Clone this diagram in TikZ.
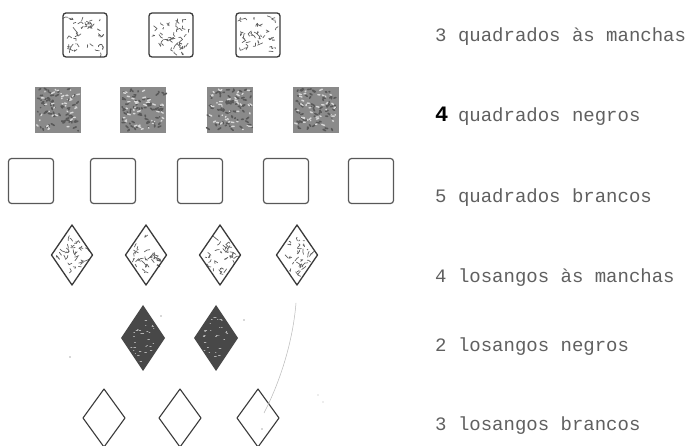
\documentclass[tikz,border=0pt]{standalone}
\usepackage{fontspec}
\setmonofont{Liberation Mono}
\definecolor{ink}{HTML}{3A3A3A}
\definecolor{txt}{HTML}{606060}
\definecolor{darkfill}{HTML}{8A8A8A}
\definecolor{blackfill}{HTML}{484848}
\tikzset{
  edge/.style={draw=ink, line width=1.3pt, rounded corners=3pt},
  spot/.style={draw=ink!80, line width=0.7pt, line cap=round, line join=round},
  lbl/.style={anchor=base west, inner sep=0pt, text=txt, font=\ttfamily\fontsize{19}{19}\selectfont},
  spotsq/.pic={
    \foreach \i in {1,...,40}{
      \pgfmathsetmacro\px{rand*18}\pgfmathsetmacro\py{rand*18}
      \pgfmathsetmacro\dx{rand*3.5}\pgfmathsetmacro\dy{rand*3.5}
      \pgfmathsetmacro\ex{rand*3}\pgfmathsetmacro\ey{rand*3}
      \draw[spot] (\px,\py) -- ++(\dx,\dy) -- ++(\ex,\ey);
    }
    \draw[edge] (-22,-22) rectangle (22,22);
  },
  darksq/.pic={
    \fill[darkfill] (-23,-23) rectangle (23,23);
    \foreach \i in {1,...,70}{
      \pgfmathsetmacro\px{rand*21}\pgfmathsetmacro\py{rand*21}
      \pgfmathsetmacro\dx{rand*3}\pgfmathsetmacro\dy{rand*2}
      \draw[line width=1.6pt, black!65, line cap=round] (\px,\py) -- ++(\dx,\dy);
    }
    \foreach \i in {1,...,40}{
      \pgfmathsetmacro\px{rand*20}\pgfmathsetmacro\py{rand*20}
      \pgfmathsetmacro\dx{rand*3}\pgfmathsetmacro\dy{rand*1.5}
      \draw[line width=1.4pt, gray!30, line cap=round] (\px,\py) -- ++(\dx,\dy);
    }
  },
  whitesq/.pic={
    \draw[edge, draw=ink!85, line width=1.2pt] (-22.5,-22.5) rectangle (22.5,22.5);
  },
  spotdia/.pic={
    \foreach \i in {1,...,30}{
      \pgfmathsetmacro\px{rand*14}
      \pgfmathsetmacro\py{rand*(1-abs(\px)/20)*23}
      \pgfmathsetmacro\dx{rand*3.5}\pgfmathsetmacro\dy{rand*3.5}
      \pgfmathsetmacro\ex{rand*3}\pgfmathsetmacro\ey{rand*3}
      \draw[spot] (\px,\py) -- ++(\dx,\dy) -- ++(\ex,\ey);
    }
    \draw[draw=ink, line width=1.3pt, line join=round] (0,-30) -- (20.5,0) -- (0,30) -- (-20.5,0) -- cycle;
  },
  darkdia/.pic={
    \fill[blackfill] (0,-33) -- (22,0) -- (0,33) -- (-22,0) -- cycle;
    \foreach \i in {1,...,30}{
      \pgfmathsetmacro\px{rand*12}
      \pgfmathsetmacro\py{rand*(1-abs(\px)/22)*25}
      \draw[line width=1pt, gray!60, line cap=round] (\px,\py) -- ++(rand*2,0);
    }
  },
  whitedia/.pic={
    \draw[draw=ink, line width=1.1pt, line join=round] (0,-29) -- (21,0) -- (0,29) -- (-21,0) -- cycle;
  }
}
\begin{document}
\begin{tikzpicture}[x=1pt,y=-1pt]
\pgfmathsetseed{4711}
\useasboundingbox (0,0) rectangle (691,446);
\fill[white] (0,0) rectangle (691,446);
% row 1: spotted squares
\foreach \x/\n in {85/a1,171/a2,258/a3}{ \pic (\n) at (\x,35) {spotsq}; }
% row 2: dark squares
\foreach \x/\n in {58/b1,143/b2,230/b3,316/b4}{ \pic (\n) at (\x,110) {darksq}; }
% row 3: white squares
\foreach \x/\n in {31/c1,113/c2,200/c3,286/c4,371/c5}{ \pic (\n) at (\x,181) {whitesq}; }
% row 4: spotted diamonds
\foreach \x/\n in {72/d1,146/d2,220/d3,297/d4}{ \pic (\n) at (\x,255) {spotdia}; }
% row 5: dark diamonds
\foreach \x/\n in {143/e1,216/e2}{ \pic (\n) at (\x,338) {darkdia}; }
% row 6: white diamonds
\foreach \x/\n in {104/f1,180/f2,258/f3}{ \pic (\n) at (\x,418) {whitedia}; }
% pencil stroke
\draw[gray!55, line width=0.5pt] (296,303) .. controls (293,340) and (281,380) .. (264,413);
\fill[gray!60] (161,316) circle (0.8pt) (244,320) circle (0.8pt) (70,357) circle (0.9pt) (262,429) circle (0.8pt) (318,395) circle (0.6pt) (323,402) circle (0.6pt);
% labels
\node[lbl] (t1) at (435,42) {3 quadrados às manchas};
\node[lbl] (t2) at (435,122) {\makebox[11.4pt][l]{\fontsize{22}{22}\selectfont\bfseries\color{black}4} quadrados negros};
\node[lbl] (t3) at (435,203) {5 quadrados brancos};
\node[lbl] (t4) at (435,283) {4 losangos às manchas};
\node[lbl] (t5) at (435,352) {2 losangos negros};
\node[lbl] (t6) at (435,430) {3 losangos brancos};
\end{tikzpicture}
\end{document}
